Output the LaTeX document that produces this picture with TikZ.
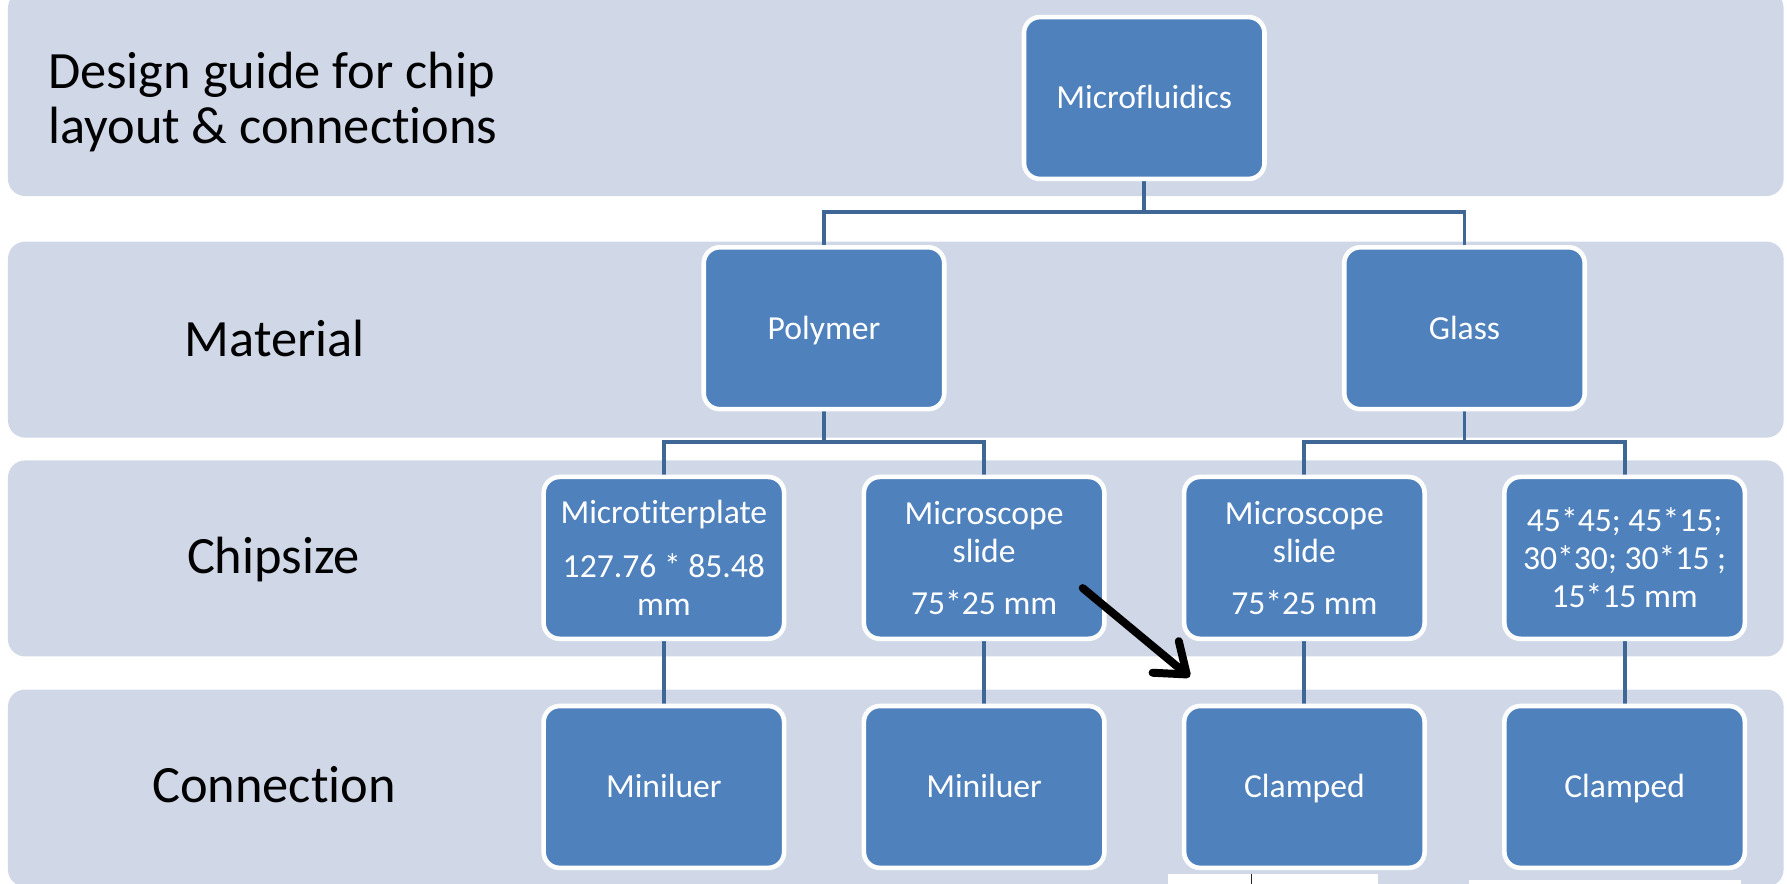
\documentclass[tikz,border=0pt]{standalone}
\usepackage{fontspec}
\setmainfont{Carlito}[Ligatures=NoCommon]
\usetikzlibrary{arrows.meta}
\definecolor{bandfill}{RGB}{208,216,232}
\definecolor{boxfill}{RGB}{79,129,189}
\definecolor{linkcol}{RGB}{63,103,150}
\pgfdeclarelayer{bands}
\pgfdeclarelayer{links}
\pgfsetlayers{bands,links,main}
\tikzset{
  band/.style={fill=bandfill, rounded corners=15pt},
  box/.style={draw=white, line width=4pt, fill=boxfill, rounded corners=14pt,
    minimum width=211pt, minimum height=142pt, inner sep=0pt,
    text=white, align=center, font=\fontsize{29.5}{33.5}\selectfont},
  oneline/.style={text height=19pt, text depth=0pt},
  rowlabel/.style={inner sep=0pt, anchor=base, font=\fontsize{46}{48.5}\selectfont},
  link/.style={draw=linkcol, line width=3.5pt},
  pointer/.style={draw=black, line width=7pt, line cap=round,
    -{Straight Barb[length=24pt, width=36pt, round]}}
}
\begin{document}
\begin{tikzpicture}[x=1pt, y=-1pt]
\useasboundingbox (0,0) rectangle (1568,775);

% horizontal level bands
\begin{pgfonlayer}{bands}
  \fill[band] (7,-8) rectangle (1565,172);
  \fill[band] (7,212) rectangle (1565,384);
  \fill[band] (7,404) rectangle (1565,576);
  \fill[band] (7,605) rectangle (1565,778);
\end{pgfonlayer}

% level captions (base anchor sits on the last line)
\node[rowlabel, anchor=base west, align=left] (title) at (42,126)
  {Design guide for chip\\layout \& connections};
\node[rowlabel] (lmat)  at (241,312.5) {Material};
\node[rowlabel] (lchip) at (240,503.5) {Chipsize};
\node[rowlabel] (lconn) at (240.5,704.5) {Connection};

% hierarchy boxes
\node[box, oneline] (mf)    at (1004,86)  {Microfluidics};
\node[box, oneline] (poly)  at (723,288)  {Polymer};
\node[box, oneline] (glass) at (1285,288) {Glass};

\node[box] (c1) at (582.5,489.5)  {Microtiterplate\\[13.5pt]127.76 * 85.48\\mm};
\node[box] (c2) at (863.5,489.5)  {Microscope\\slide\\[12.5pt]75*25 mm};
\node[box] (c3) at (1144.5,489.5) {Microscope\\slide\\[12.5pt]75*25 mm};
\node[box] (c4) at (1425.5,489.5) {45*45; 45*15;\\30*30; 30*15 ;\\15*15 mm};

\node[box, oneline] (k1) at (582.5,690.5)  {Miniluer};
\node[box, oneline] (k2) at (863.5,690.5)  {Miniluer};
\node[box, oneline] (k3) at (1144.5,690.5) {Clamped};
\node[box, oneline] (k4) at (1425.5,690.5) {Clamped};

% tree connectors
\coordinate (j1) at (1004,186);
\coordinate (j2) at (723,388);
\coordinate (j3) at (1285,388);
\begin{pgfonlayer}{links}
  \draw[link] (mf.south) -- (j1);
  \draw[link] (poly.north) |- (j1) -| (glass.north);
  \draw[link] (poly.south) -- (j2);
  \draw[link] (c1.north) |- (j2) -| (c2.north);
  \draw[link] (glass.south) -- (j3);
  \draw[link] (c3.north) |- (j3) -| (c4.north);
  \draw[link] (c1.south) -- (k1.north);
  \draw[link] (c2.south) -- (k2.north);
  \draw[link] (c3.south) -- (k3.north);
  \draw[link] (c4.south) -- (k4.north);
\end{pgfonlayer}

% black pointer
\coordinate (p1) at (950,516);
\coordinate (p2) at (1044,594);
\draw[pointer] (p1) -- (p2);

% white strips along the lower edge
\fill[white] (1025,767) rectangle (1209,780);
\draw[line width=1pt, black!85] (1098,767) -- (1098,776);
\fill[white] (1289,772) rectangle (1528,780);
\end{tikzpicture}
\end{document}
